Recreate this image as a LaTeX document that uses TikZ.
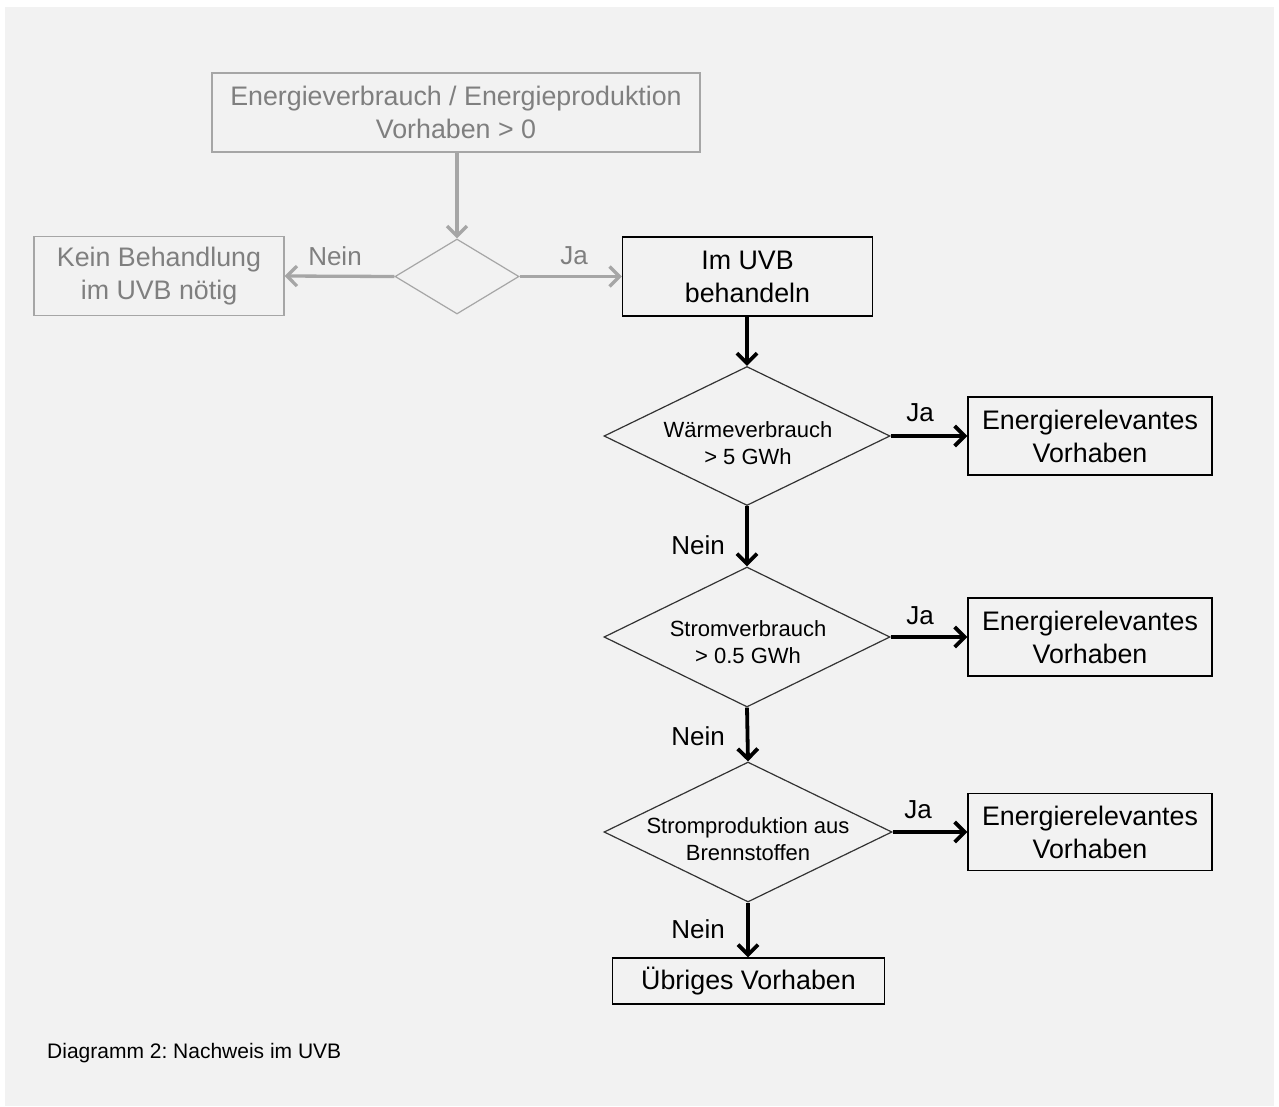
\documentclass[tikz,border=0pt]{standalone}
\usepackage{fontspec}
\setmainfont{Liberation Sans}
\usetikzlibrary{shapes.geometric,arrows.meta}
\definecolor{panel}{HTML}{F2F2F2}
\definecolor{gline}{HTML}{A6A6A6}
\definecolor{gtext}{HTML}{7F7F7F}
\frenchspacing
\begin{document}
\begin{tikzpicture}[x=1pt,y=-1pt,
  box/.style={draw=black,line width=1.3pt,rectangle,inner sep=0pt,align=center,font=\fontsize{26.8}{33}\selectfont},
  gbox/.style={box,draw=gline,text=gtext},
  dia/.style={draw=black!80,line width=1.2pt,diamond,inner sep=0pt},
  diatext/.style={align=center,font=\fontsize{22}{27}\selectfont,inner sep=0pt},
  arr/.style={line width=3.8pt,-{Straight Barb[length=10pt,width=20pt]}},
  garr/.style={arr,draw=gline,line width=3.3pt},
  lab/.style={font=\fontsize{26}{30}\selectfont,inner sep=0pt},
]
\fill[white] (0,0) rectangle (1279,1106);
\fill[panel] (5,7) rectangle (1274,1106);
\useasboundingbox (0,0) rectangle (1279,1106);

% gray part
\node[gbox,minimum width=488pt,minimum height=79pt] (top) at (456,112.5) {Energieverbrauch / Energieproduktion\\Vorhaben > 0};
\node[dia,draw=gline,minimum width=124pt,minimum height=75pt] (d0) at (457,276.5) {};
\node[gbox,minimum width=250pt,minimum height=79pt] (kein) at (159,276) {Kein Behandlung\\im UVB nötig};
\node[box,minimum width=250pt,minimum height=79pt] (uvb) at (747.5,276.5) {Im UVB\\behandeln};

\draw[garr] (top.south -| d0.north) -- (d0.north);
\draw[garr] (d0.west) -- (kein.east);
\draw[garr] (d0.east) -- (d0.east -| uvb.west);
\node[lab,text=gtext] (l0n) at (335,256) {Nein};
\node[lab,text=gtext] (l0j) at (574,256) {Ja};

% decisions
\node[dia,minimum width=286pt,minimum height=139pt] (d1) at (747,436) {};
\node[diatext] (t1) at (748,443.5) {Wärmeverbrauch\\> 5 GWh};
\node[dia,minimum width=286pt,minimum height=140pt] (d2) at (747,637) {};
\node[diatext] (t2) at (748,642.5) {Stromverbrauch\\> 0.5 GWh};
\node[dia,minimum width=288pt,minimum height=140pt] (d3) at (748,832) {};
\node[diatext] (t3) at (748,839.5) {Stromproduktion aus\\Brennstoffen};

\node[box,minimum width=244pt,minimum height=78pt] (e1) at (1090,436) {Energierelevantes\\Vorhaben};
\node[box,minimum width=244pt,minimum height=78pt] (e2) at (1090,637) {Energierelevantes\\Vorhaben};
\node[box,minimum width=244pt,minimum height=77pt] (e3) at (1090,832) {Energierelevantes\\Vorhaben};
\node[box,minimum width=272pt,minimum height=46pt] (ub) at (748.5,981) {Übriges Vorhaben};

\draw[arr] (uvb.south -| d1.north) -- (d1.north);
\draw[arr] (d1.east) -- (e1.west |- d1.east);
\draw[arr] (d1.south) -- (d2.north);
\draw[arr] (d2.east) -- (e2.west |- d2.east);
\draw[arr] (d2.south) -- (d3.north);
\draw[arr] (d3.east) -- (e3.west |- d3.east);
\draw[arr] (d3.south) -- (d3.south |- ub.north);

\node[lab] (j1) at (920,413) {Ja};
\node[lab] (j2) at (920,616) {Ja};
\node[lab] (j3) at (918,810) {Ja};
\node[lab] (n1) at (698,545) {Nein};
\node[lab] (n2) at (698,736) {Nein};
\node[lab] (n3) at (698,929) {Nein};

\node[anchor=west,inner sep=0pt,font=\fontsize{21}{25}\selectfont] (cap) at (47,1053) {Diagramm 2: Nachweis im UVB};
\end{tikzpicture}
\end{document}
